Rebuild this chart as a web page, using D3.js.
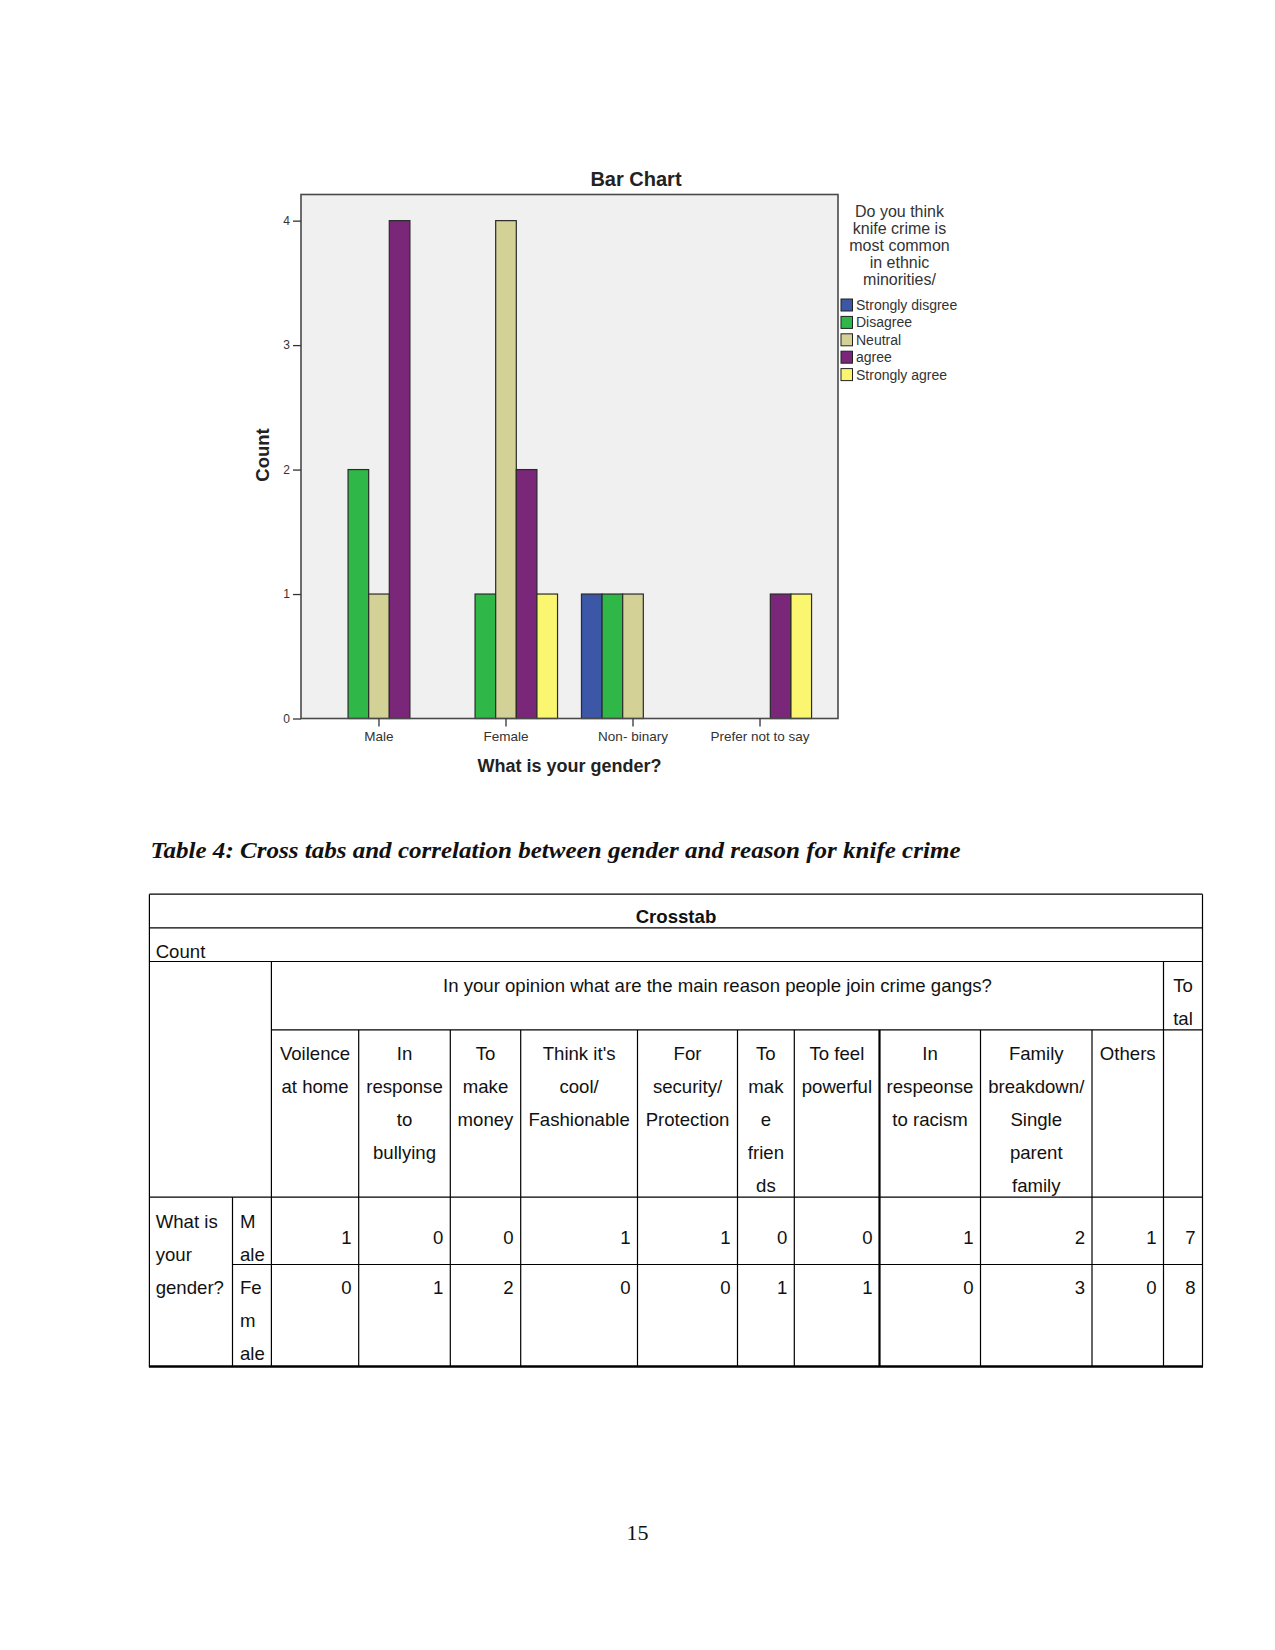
<!DOCTYPE html>
<html>
<head>
<meta charset="utf-8">
<script src="https://cdn.jsdelivr.net/npm/d3@7"></script>
<style>
  html, body { margin: 0; padding: 0; background: #fff; }
  svg { display: block; }
</style>
</head>
<body>
<script>
// ---------- DATA ----------
const genders = ["Male", "Female", "Non- binary", "Prefer not to say"];
const opinions = ["Strongly disgree", "Disagree", "Neutral", "agree", "Strongly agree"];
const stronglyDisagree = [0, 0, 1, 0];
const disagree = [2, 1, 1, 0];
const neutral = [1, 4, 1, 0];
const agree = [4, 2, 0, 1];
const stronglyAgree = [0, 1, 0, 1];
const yTicks = [0, 1, 2, 3, 4];
const legendTitle = ["Do you think", "knife crime is", "most common", "in ethnic", "minorities/"];
const opinionColors = ["#3b57a6", "#2fb848", "#d4d197", "#7a2679", "#fbf66f"];

const caption = "Table 4: Cross tabs and correlation between gender and reason for knife crime";
const tableTitle = "Crosstab";
const question = "In your opinion what are the main reason people join crime gangs?";
const reasonHeaders = [
  ["Voilence", "at home"],
  ["In", "response", "to", "bullying"],
  ["To", "make", "money"],
  ["Think it's", "cool/", "Fashionable"],
  ["For", "security/", "Protection"],
  ["To", "mak", "e", "frien", "ds"],
  ["To feel", "powerful"],
  ["In", "respeonse", "to racism"],
  ["Family", "breakdown/", "Single", "parent", "family"],
  ["Others"]
];
const totalHeader = ["To", "tal"];
const rowVarLabel = ["What is", "your", "gender?"];
const maleLabel = ["M", "ale"];
const femaleLabel = ["Fe", "m", "ale"];
const maleRow = [1, 0, 0, 1, 1, 0, 0, 1, 2, 1];
const femaleRow = [0, 1, 2, 0, 0, 1, 1, 0, 3, 0];
const maleTotal = 7;
const femaleTotal = 8;
const pageNumber = "15";

const series = [stronglyDisagree, disagree, neutral, agree, stronglyAgree];

// ---------- LAYOUT ----------
const W = 1275, H = 1650;
const svg = d3.select("body").append("svg").attr("width", W).attr("height", H);
const sans = "'Liberation Sans', Arial, sans-serif";
const serif = "'Liberation Serif', 'Times New Roman', serif";

// ---------- BAR CHART ----------
const plot = { left: 301, right: 838, top: 194.5, bottom: 718.5 };

const x0 = d3.scaleBand().domain(genders).range([plot.left, plot.right])
  .paddingInner(0).paddingOuter(0.114);
const x1 = d3.scaleBand().domain(opinions).range([0, x0.bandwidth()])
  .paddingInner(0).paddingOuter(0.58);
const y = d3.scaleLinear().domain([0, 4.21]).range([plot.bottom, plot.top]);
const color = d3.scaleOrdinal().domain(opinions).range(opinionColors);

svg.append("rect")
  .attr("x", plot.left).attr("y", plot.top)
  .attr("width", plot.right - plot.left).attr("height", plot.bottom - plot.top)
  .attr("fill", "#f0f0f0");

const barData = [];
genders.forEach((g, gi) => {
  opinions.forEach((o, oi) => {
    const v = series[oi][gi];
    if (v > 0) barData.push({ g, o, v });
  });
});

svg.append("g").selectAll("rect").data(barData).join("rect")
  .attr("x", d => x0(d.g) + x1(d.o))
  .attr("y", d => y(d.v))
  .attr("width", x1.bandwidth())
  .attr("height", d => y(0) - y(d.v))
  .attr("fill", d => color(d.o))
  .attr("stroke", "#2a2a2a")
  .attr("stroke-width", 1.2);

svg.append("rect")
  .attr("x", plot.left).attr("y", plot.top)
  .attr("width", plot.right - plot.left).attr("height", plot.bottom - plot.top)
  .attr("fill", "none").attr("stroke", "#4a4a4a").attr("stroke-width", 1.6);

// y axis
const yAxis = d3.axisLeft(y).tickValues(yTicks).tickSize(8).tickPadding(3).tickFormat(d3.format("d"));
const gy = svg.append("g").attr("transform", `translate(${plot.left},0)`).call(yAxis);
gy.select(".domain").remove();
gy.selectAll("line").attr("stroke", "#333").attr("stroke-width", 1.3);
gy.selectAll("text").attr("font-family", sans).attr("font-size", 12).attr("fill", "#333");

// x axis
const xAxis = d3.axisBottom(x0).tickSize(8).tickPadding(5);
const gx = svg.append("g").attr("transform", `translate(0,${plot.bottom})`).call(xAxis);
gx.select(".domain").remove();
gx.selectAll("line").attr("stroke", "#333").attr("stroke-width", 1.3);
gx.selectAll("text").attr("font-family", sans).attr("font-size", 13.5).attr("fill", "#333");

// titles
svg.append("text").attr("x", 636).attr("y", 179).attr("text-anchor", "middle")
  .attr("dominant-baseline", "central")
  .attr("font-family", sans).attr("font-weight", "bold").attr("font-size", 20).attr("fill", "#222")
  .text("Bar Chart");
svg.append("text").attr("transform", "translate(262,455) rotate(-90)")
  .attr("text-anchor", "middle").attr("dominant-baseline", "central")
  .attr("font-family", sans).attr("font-weight", "bold").attr("font-size", 18.5).attr("fill", "#222")
  .text("Count");
svg.append("text").attr("x", (plot.left + plot.right) / 2).attr("y", 766).attr("text-anchor", "middle")
  .attr("dominant-baseline", "central")
  .attr("font-family", sans).attr("font-weight", "bold").attr("font-size", 18).attr("fill", "#222")
  .text("What is your gender?");

// legend
const lg = svg.append("g");
lg.selectAll("text.lt").data(legendTitle).join("text").attr("class", "lt")
  .attr("x", 899.5).attr("y", (d, i) => 211.5 + i * 16.9)
  .attr("text-anchor", "middle").attr("dominant-baseline", "central")
  .attr("font-family", sans).attr("font-size", 16).attr("fill", "#333")
  .text(d => d);
const li = lg.selectAll("g.li").data(opinions).join("g").attr("class", "li")
  .attr("transform", (d, i) => `translate(841,${305 + i * 17.4})`);
li.append("rect").attr("x", 0).attr("y", -6).attr("width", 11.5).attr("height", 12)
  .attr("fill", d => color(d)).attr("stroke", "#222").attr("stroke-width", 1);
li.append("text").attr("x", 15).attr("y", 0).attr("dominant-baseline", "central")
  .attr("font-family", sans).attr("font-size", 14).attr("fill", "#333").text(d => d);

// ---------- CAPTION ----------
svg.append("text").attr("x", 150.5).attr("y", 858)
  .attr("font-family", serif).attr("font-style", "italic").attr("font-weight", "bold")
  .attr("font-size", 24).attr("fill", "#111")
  .attr("textLength", 810).attr("lengthAdjust", "spacingAndGlyphs")
  .text(caption);

// ---------- TABLE ----------
const T = { left: 149.4, right: 1202.5, top: 894.2 };
const rowY = { title: 927.9, count: 961.5, question: 1029.9, header: 1197.2, male: 1264.5, bottom: 1366.5 };
const subCol = 232.5;
const colEdges = [271.4, 358.7, 450.3, 520.7, 637.5, 737.5, 794.3, 879.5, 980.5, 1092, 1163.5, 1202.5];
const fs = 18.6, lh = 33.1;
const tg = svg.append("g");
function hline(x1, x2, yy, w = 1.2) {
  tg.append("line").attr("x1", x1).attr("x2", x2).attr("y1", yy).attr("y2", yy)
    .attr("stroke", "#000").attr("stroke-width", w);
}
function vline(xx, y1, y2, w = 1.2) {
  tg.append("line").attr("x1", xx).attr("x2", xx).attr("y1", y1).attr("y2", y2)
    .attr("stroke", "#000").attr("stroke-width", w);
}
function txt(s, x, yy, anchor = "middle", bold = false) {
  tg.append("text").attr("x", x).attr("y", yy).attr("text-anchor", anchor)
    .attr("dominant-baseline", "central").attr("font-family", sans)
    .attr("font-size", fs).attr("font-weight", bold ? "bold" : "normal").attr("fill", "#111").text(s);
}
// borders
hline(T.left, T.right, T.top);
vline(T.left, T.top, rowY.bottom);
vline(T.right, T.top, rowY.bottom);
hline(T.left, T.right, rowY.title);
hline(T.left, T.right, rowY.count);
hline(colEdges[0], T.right, rowY.question);
hline(T.left, T.right, rowY.header);
hline(subCol, T.right, rowY.male);
hline(T.left - 0.5, T.right + 0.5, rowY.bottom, 2.6);
vline(colEdges[0], rowY.count, rowY.bottom);
vline(subCol, rowY.header, rowY.bottom);
colEdges.slice(1, -2).forEach((cx, i) => {
  vline(cx, rowY.question, rowY.bottom, cx === 879.5 ? 2.2 : 1.2);
});
vline(colEdges[colEdges.length - 2], rowY.count, rowY.bottom);

// texts
txt(tableTitle, (T.left + T.right) / 2, 916, "middle", true);
txt("Count", 155.7, 951, "start");
txt(question, (colEdges[0] + colEdges[colEdges.length - 2]) / 2, 985.7);
const tcx = (colEdges[colEdges.length - 2] + T.right) / 2;
totalHeader.forEach((s, i) => txt(s, tcx, 985.7 + i * lh));
reasonHeaders.forEach((lines, ci) => {
  const cx = (colEdges[ci] + colEdges[ci + 1]) / 2;
  lines.forEach((s, li) => txt(s, cx, 1053 + li * lh));
});
rowVarLabel.forEach((s, i) => txt(s, 155.7, 1221.4 + i * lh, "start"));
maleLabel.forEach((s, i) => txt(s, 240, 1221.4 + i * lh, "start"));
femaleLabel.forEach((s, i) => txt(s, 240, 1287.6 + i * lh, "start"));
maleRow.concat([maleTotal]).forEach((v, ci) => txt(String(v), colEdges[ci + 1] - 7, 1237, "end"));
femaleRow.concat([femaleTotal]).forEach((v, ci) => txt(String(v), colEdges[ci + 1] - 7, 1287.6, "end"));

// page number
svg.append("text").attr("x", 637.5).attr("y", 1532).attr("text-anchor", "middle")
  .attr("dominant-baseline", "central").attr("font-family", serif).attr("font-size", 22).attr("fill", "#111")
  .text(pageNumber);
</script>
</body>
</html>
